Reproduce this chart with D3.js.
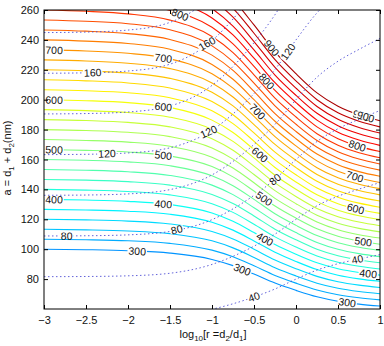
<!DOCTYPE html>
<html>
<head>
<meta charset="utf-8">
<script src="https://cdn.jsdelivr.net/npm/d3@7"></script>
<style>
body { margin: 0; background: #fff; }
text { font-family: "Liberation Sans", Arial, sans-serif; fill: #111; }
</style>
</head>
<body>
<div id="chart"></div>
<script>
// positions along log10(r) where the contour shapes were read
var xKnots = [-3, -2.5, -2, -1.5, -1, -0.75, -0.5, -0.25, 0, 0.25, 0.5, 0.75, 1];
// solid field / a
var solidRatio = [3.00, 3.01, 3.03, 3.08, 3.22, 3.37, 3.60, 3.88, 4.14, 4.40, 4.60, 4.74, 4.84];
// dotted field / a
var dotRatio = [0.735, 0.734, 0.730, 0.715, 0.668, 0.630, 0.588, 0.545, 0.500, 0.465, 0.443, 0.428, 0.415];

var solidLevels = [300, 320, 340, 360, 380, 400, 420, 440, 460, 480, 500, 520, 540, 560, 580,
    600, 620, 640, 660, 680, 700, 720, 740, 760, 780, 800, 820, 840, 860, 880, 900];
var dotLevels = [40, 60, 80, 100, 120, 140, 160, 180];

// inline labels: level and log10(r) position
var solidLblLevels = [400, 500, 600, 700, 300, 400, 500, 600, 700, 800,
    300, 400, 500, 600, 700, 800, 900, 300, 400, 500, 600, 700, 800, 900, 900];
var solidLblX = [-2.88, -2.88, -2.88, -2.88, -1.89, -1.58, -1.58, -1.58, -1.58, -1.38,
    -0.64, -0.37, -0.38, -0.43, -0.46, -0.35, -0.29, 0.61, 0.86, 0.80, 0.71, 0.70, 0.73, 0.78, 0.83];
var dotLblLevels = [80, 120, 160, 80, 120, 160, 80, 120, 40, 40];
var dotLblX = [-2.73, -2.25, -2.42, -1.42, -1.04, -1.06, -0.25, -0.095, -0.5, 0.73];

var xTicks = [-3, -2.5, -2, -1.5, -1, -0.5, 0, 0.5, 1];
var yTicks = [80, 100, 120, 140, 160, 180, 200, 220, 240, 260];

var svgWdt = 384, svgHgt = 346;
var margins = { top: 10, right: 4, bottom: 37, left: 44 };

var x = d3.scaleLinear().domain([-3, 1]).range([margins.left, svgWdt - margins.right]);
var y = d3.scaleLinear().domain([60, 260]).range([svgHgt - margins.bottom, margins.top]);

var solidAt = d3.scaleLinear().domain(xKnots).range(solidRatio);
var dotAt = d3.scaleLinear().domain(xKnots).range(dotRatio);

// jet colormap spread over the level range
var jet = d3.scaleLinear()
    .domain([65, 174, 391, 609, 826, 935])
    .range(["#000080", "#0000ff", "#00ffff", "#ffff00", "#ff0000", "#800000"])
    .clamp(true);

var svg = d3.select("#chart").append("svg")
    .attr("width", svgWdt)
    .attr("height", svgHgt);

svg.append("defs").append("clipPath").attr("id", "plotArea")
    .append("rect")
    .attr("x", x(-3)).attr("y", y(260))
    .attr("width", x(1) - x(-3)).attr("height", y(60) - y(260));

var plot = svg.append("g").attr("clip-path", "url(#plotArea)");

var line = d3.line()
    .x(d => x(d[0]))
    .y(d => y(d[1]))
    .curve(d3.curveMonotoneX);

// solid contours
plot.selectAll(".solid").data(solidLevels)
    .enter()
    .append("path")
        .attr("class", "solid")
        .attr("d", lv => line(xKnots.map((k, i) => [k, lv / solidRatio[i]])))
        .attr("fill", "none")
        .attr("stroke", lv => jet(lv))
        .attr("stroke-width", 1.1);

// dotted contours
plot.selectAll(".dotted").data(dotLevels)
    .enter()
    .append("path")
        .attr("class", "dotted")
        .attr("d", lv => line(xKnots.map((k, i) => [k, lv / dotRatio[i]])))
        .attr("fill", "none")
        .attr("stroke", "#4848d4")
        .attr("stroke-width", 1)
        .attr("stroke-dasharray", "1.5,2.5")
        .attr("opacity", 0.85);

// inline contour label, rotated along its line
function addLabel(level, xv, ratioAt) {
    var ax = xv - 0.03, bx = xv + 0.03;
    var px = x(xv), py = y(level / ratioAt(xv));
    var ang = Math.atan2(y(level / ratioAt(bx)) - y(level / ratioAt(ax)), x(bx) - x(ax)) * 180 / Math.PI;
    var g = svg.append("g").attr("transform", `translate(${px}, ${py}) rotate(${ang})`);
    var r = g.append("rect");
    var t = g.append("text")
        .attr("text-anchor", "middle")
        .attr("dy", "0.36em")
        .attr("font-size", "10.5px")
        .text(level);
    var w = t.node().getComputedTextLength();
    r.attr("x", -w / 2 - 1).attr("y", -3).attr("width", w + 2).attr("height", 6).attr("fill", "#fff");
}

solidLblLevels.forEach((lv, i) => addLabel(lv, solidLblX[i], solidAt));
dotLblLevels.forEach((lv, i) => addLabel(lv, dotLblX[i], dotAt));

// frame
svg.append("rect")
    .attr("x", x(-3)).attr("y", y(260))
    .attr("width", x(1) - x(-3)).attr("height", y(60) - y(260))
    .attr("fill", "none").attr("stroke", "#000").attr("stroke-width", 1);

// axes with inward ticks
var fmt = d3.format("");
var botAx = svg.append("g")
    .attr("transform", `translate(0, ${y(60)})`)
    .call(d3.axisBottom(x).tickValues(xTicks).tickFormat(fmt).tickSizeInner(-4).tickSizeOuter(0).tickPadding(7));
var topAx = svg.append("g")
    .attr("transform", `translate(0, ${y(260)})`)
    .call(d3.axisTop(x).tickValues(xTicks).tickSizeInner(-4).tickSizeOuter(0).tickFormat(""));
var leftAx = svg.append("g")
    .attr("transform", `translate(${x(-3)}, 0)`)
    .call(d3.axisLeft(y).tickValues(yTicks).tickFormat(fmt).tickSizeInner(-4).tickSizeOuter(0).tickPadding(5));
var rightAx = svg.append("g")
    .attr("transform", `translate(${x(1)}, 0)`)
    .call(d3.axisRight(y).tickValues(yTicks).tickSizeInner(-4).tickSizeOuter(0).tickFormat(""));

[botAx, topAx, leftAx, rightAx].forEach(ax => {
    ax.select(".domain").remove();
    ax.selectAll("line").attr("stroke", "#000");
    ax.selectAll("text").attr("font-size", "11px").attr("fill", "#111")
        .style("font-family", "'Liberation Sans', Arial, sans-serif");
});

// axis titles
var yLbl = svg.append("text")
    .attr("transform", "translate(11, 158) rotate(-90)")
    .attr("text-anchor", "middle")
    .attr("font-size", "11px");
yLbl.append("tspan").text("a = d");
yLbl.append("tspan").attr("font-size", "8px").attr("dy", 3).text("1");
yLbl.append("tspan").attr("dy", -3).text(" + d");
yLbl.append("tspan").attr("font-size", "8px").attr("dy", 3).text("2");
yLbl.append("tspan").attr("dy", -3).text("(nm)");

var xLbl = svg.append("text")
    .attr("x", 213).attr("y", 338)
    .attr("text-anchor", "middle")
    .attr("font-size", "11px");
xLbl.append("tspan").text("log");
xLbl.append("tspan").attr("font-size", "8px").attr("dy", 3).text("10");
xLbl.append("tspan").attr("dy", -3).text("[r =d");
xLbl.append("tspan").attr("font-size", "8px").attr("dy", 3).text("2");
xLbl.append("tspan").attr("dy", -3).text("/d");
xLbl.append("tspan").attr("font-size", "8px").attr("dy", 3).text("1");
xLbl.append("tspan").attr("dy", -3).text("]");
</script>
</body>
</html>
